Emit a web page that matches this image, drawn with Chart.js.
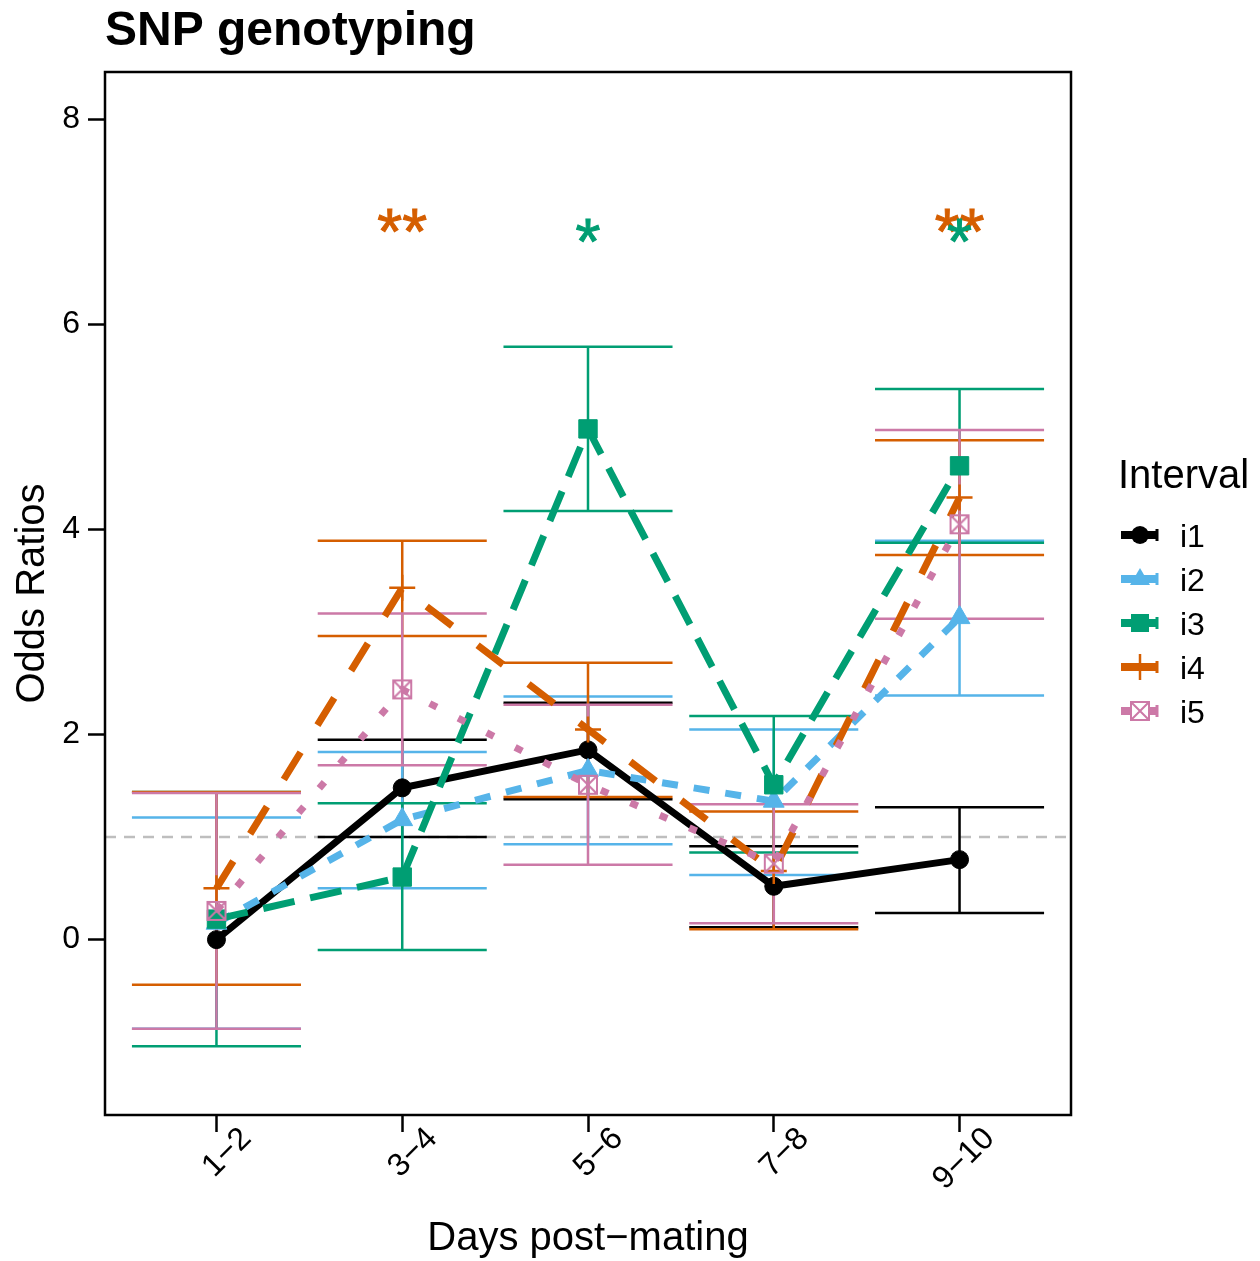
<!DOCTYPE html>
<html><head><meta charset="utf-8">
<script src="https://cdn.jsdelivr.net/npm/chart.js@4.4.0/dist/chart.umd.min.js"></script>
<style>html,body{margin:0;padding:0;background:#fff}#wrap{width:1260px;height:1261px}</style>
</head><body><div id="wrap"><canvas id="c" width="1260" height="1261"></canvas></div>
<script>
// ---- data ----
const categories = ['1\u22122','3\u22124','5\u22126','7\u22128','9\u221210'];
const yTicks = [0, 2, 4, 6, 8];
const seriesNames = ['i1','i2','i3','i4','i5'];

const i1 = [0.00, 1.48, 1.85, 0.52, 0.78];
const i1Low = [null, 1.00, 1.37, 0.12, 0.26];
const i1High = [null, 1.95, 2.31, 0.91, 1.29];

const i2 = [0.16, 1.17, 1.65, 1.35, 3.14];
const i2Low = [-0.87, 0.50, 0.93, 0.63, 2.38];
const i2High = [1.19, 1.83, 2.37, 2.05, 3.89];

const i3 = [0.20, 0.61, 4.98, 1.51, 4.62];
const i3Low = [-1.04, -0.10, 4.18, 0.85, 3.87];
const i3High = [1.44, 1.33, 5.78, 2.18, 5.37];

const i4 = [0.50, 3.43, 2.05, 0.67, 4.31];
const i4Low = [-0.44, 2.96, 1.39, 0.10, 3.75];
const i4High = [1.44, 3.89, 2.70, 1.25, 4.87];

const i5 = [0.28, 2.44, 1.51, 0.74, 4.05];
const i5Low = [-0.87, 1.70, 0.73, 0.16, 3.13];
const i5High = [1.43, 3.18, 2.29, 1.32, 4.97];

const refLine = 1;
const starLabels = ['**', '*', '**', '*'];
const starX = [1, 2, 4, 4];
const starY = [7.0, 6.9, 7.0, 6.9];
const starSeries = [3, 2, 3, 2];

// ---- styles ----
const FONT = "'Liberation Sans', Arial, sans-serif";
const colors = ['#000000', '#56B4E9', '#009E73', '#D55E00', '#CC79A7'];
const dashes = [[], [16, 16], [32, 16], [32, 32], [8, 24]];
const values = [i1, i2, i3, i4, i5];
const lows = [i1Low, i2Low, i3Low, i4Low, i5Low];
const highs = [i1High, i2High, i3High, i4High, i5High];
const capHalf = 0.455;

function sqXCanvas(col) {
  const c = document.createElement('canvas');
  c.width = 22; c.height = 22;
  const g = c.getContext('2d');
  g.strokeStyle = col; g.lineWidth = 2;
  g.strokeRect(2, 2, 18, 18);
  g.beginPath(); g.moveTo(2, 2); g.lineTo(20, 20); g.moveTo(20, 2); g.lineTo(2, 20); g.stroke();
  return c;
}
const pointStyles = ['circle', 'triangle', 'rect', 'cross', sqXCanvas(colors[4])];
const pointRadii = [9, 12, 13, 13, 11];

const datasets = seriesNames.map((name, s) => ({
  label: name,
  data: values[s].map((v, i) => ({x: i, y: v})),
  borderColor: colors[s],
  backgroundColor: colors[s],
  borderWidth: 7,
  borderDash: dashes[s],
  borderCapStyle: 'butt',
  tension: 0,
  pointStyle: pointStyles[s],
  pointRadius: pointRadii[s],
  pointBackgroundColor: colors[s],
  pointBorderColor: colors[s],
  pointBorderWidth: s === 3 ? 2.5 : 1,
  order: 4 - s
}));

function drawMarker(ctx, s, x, y) {
  ctx.save();
  ctx.fillStyle = colors[s]; ctx.strokeStyle = colors[s]; ctx.setLineDash([]);
  if (s === 0) { ctx.beginPath(); ctx.arc(x, y, 9, 0, Math.PI * 2); ctx.fill(); }
  else if (s === 1) { ctx.beginPath(); ctx.moveTo(x, y - 11); ctx.lineTo(x + 10, y + 6); ctx.lineTo(x - 10, y + 6); ctx.closePath(); ctx.fill(); }
  else if (s === 2) { ctx.fillRect(x - 9, y - 9, 18, 18); }
  else if (s === 3) { ctx.lineWidth = 2.5; ctx.beginPath(); ctx.moveTo(x, y - 13); ctx.lineTo(x, y + 13); ctx.stroke(); }
  else { ctx.fillStyle = '#fff'; ctx.fillRect(x - 9, y - 9, 18, 18); ctx.drawImage(pointStyles[4], x - 11, y - 11); }
  ctx.restore();
}

const decor = {
  id: 'decor',
  beforeDatasetsDraw(chart) {
    const ctx = chart.ctx, xs = chart.scales.x, ys = chart.scales.y, a = chart.chartArea;
    ctx.save();
    // reference line
    ctx.strokeStyle = '#BEBEBE'; ctx.lineWidth = 2.5; ctx.setLineDash([11, 8]);
    const yr = ys.getPixelForValue(refLine);
    ctx.beginPath(); ctx.moveTo(a.left, yr); ctx.lineTo(a.right, yr); ctx.stroke();
    ctx.setLineDash([]);
    // error bars
    for (let s = 0; s < 5; s++) {
      ctx.strokeStyle = colors[s]; ctx.lineWidth = 2.5;
      for (let i = 0; i < categories.length; i++) {
        if (lows[s][i] == null) continue;
        const x = xs.getPixelForValue(i);
        const xl = xs.getPixelForValue(i - capHalf), xr = xs.getPixelForValue(i + capHalf);
        const yl = ys.getPixelForValue(lows[s][i]), yh = ys.getPixelForValue(highs[s][i]);
        ctx.beginPath();
        ctx.moveTo(xl, yh); ctx.lineTo(xr, yh);
        ctx.moveTo(xl, yl); ctx.lineTo(xr, yl);
        ctx.moveTo(x, yh); ctx.lineTo(x, yl);
        ctx.stroke();
      }
    }
    ctx.restore();
  },
  afterDatasetsDraw(chart) {
    const ctx = chart.ctx, xs = chart.scales.x, ys = chart.scales.y, a = chart.chartArea;
    ctx.save();
    // significance stars
    ctx.font = '64px ' + FONT; ctx.textAlign = 'center'; ctx.textBaseline = 'alphabetic';
    for (let k = 0; k < starLabels.length; k++) {
      ctx.fillStyle = colors[starSeries[k]];
      ctx.strokeStyle = colors[starSeries[k]]; ctx.lineWidth = 1;
      const px = xs.getPixelForValue(starX[k]), py = ys.getPixelForValue(starY[k]) + 32;
      ctx.fillText(starLabels[k], px, py);
      ctx.strokeText(starLabels[k], px, py);
    }
    // panel border
    ctx.strokeStyle = '#000'; ctx.lineWidth = 2.5;
    ctx.strokeRect(a.left, a.top, a.right - a.left, a.bottom - a.top);
    ctx.restore();
  },
  afterDraw(chart) {
    const ctx = chart.ctx, a = chart.chartArea;
    ctx.save();
    ctx.fillStyle = '#000';
    // title
    ctx.font = 'bold 48px ' + FONT; ctx.textAlign = 'left'; ctx.textBaseline = 'alphabetic';
    ctx.fillText('SNP genotyping', 105, 45);
    // axis titles
    ctx.font = '40px ' + FONT; ctx.textAlign = 'center';
    ctx.fillText('Days post\u2212mating', (a.left + a.right) / 2, 1250);
    ctx.save();
    ctx.translate(33, (a.top + a.bottom) / 2); ctx.rotate(-Math.PI / 2);
    ctx.textBaseline = 'middle';
    ctx.fillText('Odds Ratios', 0, 0);
    ctx.restore();
    // legend
    ctx.font = '40px ' + FONT; ctx.textAlign = 'left'; ctx.textBaseline = 'alphabetic';
    ctx.fillText('Interval', 1118, 488);
    ctx.font = '32px ' + FONT;
    for (let s = 0; s < 5; s++) {
      const y = 535 + s * 44;
      ctx.strokeStyle = colors[s]; ctx.lineWidth = 8; ctx.setLineDash([]);
      ctx.beginPath(); ctx.moveTo(1121, y); ctx.lineTo(1156, y); ctx.stroke();
      ctx.lineWidth = 3;
      ctx.beginPath(); ctx.moveTo(1157, y - 6); ctx.lineTo(1157, y + 6); ctx.stroke();
      drawMarker(ctx, s, 1140, y);
      ctx.fillStyle = '#000';
      ctx.fillText(seriesNames[s], 1180, y + 12);
    }
    ctx.restore();
  }
};

new Chart(document.getElementById('c'), {
  type: 'line',
  data: {datasets},
  options: {
    responsive: false, animation: false, devicePixelRatio: 1,
    layout: {padding: {top: 72, right: 189, left: 0, bottom: 0}},
    plugins: {legend: {display: false}, tooltip: {enabled: false}, title: {display: false}},
    scales: {
      x: {
        type: 'linear', min: -0.6, max: 4.6,
        afterBuildTicks: s => { s.ticks = categories.map((c, i) => ({value: i})); },
        afterFit: s => { s.height = 146; },
        grid: {drawOnChartArea: false, drawTicks: true, tickLength: 17, tickWidth: 2.5, tickColor: '#000'},
        border: {display: false},
        ticks: {callback: v => categories[v], minRotation: 45, maxRotation: 45, autoSkip: false,
                font: {family: FONT, size: 32}, color: '#000', padding: -12, labelOffset: 30}
      },
      y: {
        type: 'linear', min: -1.71, max: 8.46,
        afterBuildTicks: s => { s.ticks = yTicks.map(v => ({value: v})); },
        afterFit: s => { s.width = 105; },
        grid: {drawOnChartArea: false, drawTicks: true, tickLength: 17, tickWidth: 2.5, tickColor: '#000'},
        border: {display: false},
        ticks: {font: {family: FONT, size: 32}, color: '#000', padding: 8, callback: v => String(v)}
      }
    }
  },
  plugins: [decor]
});
</script></body></html>
